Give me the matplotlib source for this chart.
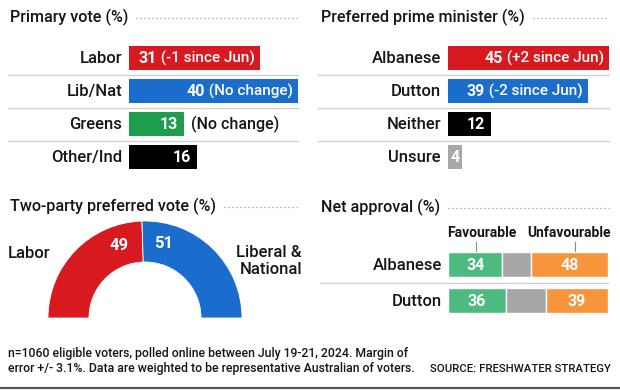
import matplotlib
matplotlib.use("Agg")
import matplotlib.pyplot as plt
import numpy as np

plt.rcParams['font.family'] = ['Roboto', 'DejaVu Sans']

# ---- data ----
primary_parties = ['Labor', 'Lib/Nat', 'Greens', 'Other/Ind']
primary_values = [31, 40, 13, 16]
primary_notes = [' (-1 since Jun)', ' (No change)', '(No change)', '']
primary_note_inside = [True, True, False, True]

ppm_names = ['Albanese', 'Dutton', 'Neither', 'Unsure']
ppm_values = [45, 39, 12, 4]
ppm_notes = [' (+2 since Jun)', ' (-2 since Jun)', '', '']
ppm_note_inside = [True, True, True, True]

tpp_labels = ['Labor', 'Liberal &\nNational']
tpp_values = [49, 51]

approval_names = ['Albanese', 'Dutton']
approval_fav = [34, 36]
approval_neither = [18, 25]
approval_unfav = [48, 39]

footnote = ("n=1060 eligible voters, polled online between July 19-21, 2024. Margin of\n"
            "error +/- 3.1%. Data are weighted to be representative Australian of voters.")
source = "SOURCE: FRESHWATER STRATEGY"

RED = '#d71920'
BLUE = '#1a6dcc'
GREEN = '#1e9e4d'
GREY = '#a8a8a8'
FAV = '#4dbb7f'
NEU = '#a6a6a6'
UNFAV = '#f7943c'
TXT = '#151515'
SEP = '#cfcfcf'
WT = 'medium'

W, H = 620, 390
fig = plt.figure(figsize=(6.2, 3.9), dpi=100)
fig.patch.set_facecolor('white')


def px_axes(x0, y0, x1, y1):
    return fig.add_axes([x0 / W, 1 - y1 / H, (x1 - x0) / W, (y1 - y0) / H])


overlay = px_axes(0, 0, W, H)
overlay.set_xlim(0, W)
overlay.set_ylim(H, 0)
overlay.axis('off')
renderer = fig.canvas.get_renderer()


def title(x, y, s, x_end):
    t = overlay.text(x, y, s, fontsize=11.6, color=TXT, ha='left', va='center',
                     fontweight=WT)
    bb = t.get_window_extent(renderer)
    start = bb.x1 + 8
    overlay.plot([start, x_end], [y + 1, y + 1], color='#999999', lw=0.9,
                 linestyle=(0, (1, 2.2)))


title(10, 17, 'Primary vote (%)', 297)
title(321, 17, 'Preferred prime minister (%)', 609)
title(10, 206, 'Two-party preferred vote (%)', 297)
title(321, 207, 'Net approval (%)', 609)


def bar_panel(ax, labels, values, colors, notes, inside, xmax, sep_from):
    n = len(values)
    ax.barh(range(n), values, height=0.73, color=colors)
    ax.set_xlim(0, xmax)
    ax.set_ylim(n - 0.5, -0.5)
    ax.axis('off')
    # separators between rows
    for i in range(n - 1):
        ax.axhline(i + 0.5, xmin=sep_from, xmax=1.0, color=SEP, lw=0.9,
                   clip_on=False)
    for i, (lab, v) in enumerate(zip(labels, values)):
        ax.annotate(lab, xy=(0, i), xytext=(-7, -5), textcoords='offset pixels',
                    ha='right', va='baseline', fontsize=12, color=TXT,
                    fontweight=WT)
        num = str(v)
        if notes[i] and inside[i]:
            t = ax.annotate(notes[i], xy=(v, i), xytext=(-5, -5),
                            textcoords='offset pixels', ha='right',
                            va='baseline', fontsize=11, color='white',
                            fontweight=WT)
            ax.annotate(num, xy=(0, 0), xycoords=t, ha='right', va='bottom',
                        fontsize=11.5, color='white', fontweight='bold')
        else:
            if v < 6:
                ax.annotate(num, xy=(v / 2, i), xytext=(0, -5),
                            textcoords='offset pixels', ha='center',
                            va='baseline', fontsize=11.5, color='white',
                            fontweight='bold')
            else:
                ax.annotate(num, xy=(v, i), xytext=(-6, -5),
                            textcoords='offset pixels', ha='right',
                            va='baseline', fontsize=11.5, color='white',
                            fontweight='bold')
            if notes[i]:
                ax.annotate(notes[i], xy=(v, i), xytext=(7, -5),
                            textcoords='offset pixels', ha='left',
                            va='baseline', fontsize=11.5, color=TXT,
                            fontweight=WT)


# Primary vote
ax1 = px_axes(129, 41.5, 298, 173.5)
bar_panel(ax1, primary_parties, primary_values, [RED, BLUE, GREEN, 'black'],
          primary_notes, primary_note_inside, 40, -(129 - 8) / (298 - 129))

# Preferred PM
ax2 = px_axes(448, 41.5, 609, 173.5)
bar_panel(ax2, ppm_names, ppm_values, [RED, BLUE, 'black', GREY],
          ppm_notes, ppm_note_inside, 45, -(448 - 318) / (609 - 448))

# Two-party preferred donut
ax3 = px_axes(45, 218, 245, 318)
ax3.pie([v / 200 for v in tpp_values], colors=[RED, BLUE], startangle=180,
        counterclock=False, radius=97, normalize=False,
        wedgeprops=dict(width=41, edgecolor='white', linewidth=0.6))
ax3.set_xlim(-100, 100)
ax3.set_ylim(0, 100)
ax3.axis('off')
boundary = 180 - tpp_values[0] * 1.8
for ang, v in [(boundary + 18, tpp_values[0]), (boundary - 16, tpp_values[1])]:
    r = 77
    ax3.text(r * np.cos(np.radians(ang)), r * np.sin(np.radians(ang)), str(v),
             ha='center', va='center', fontsize=12, fontweight='bold',
             color='white')
overlay.text(8, 253, tpp_labels[0], ha='left', va='center', fontsize=12,
             color=TXT, fontweight=WT)
overlay.text(302, 261, tpp_labels[1], ha='right', va='center', fontsize=12,
             color=TXT, linespacing=1.1, fontweight=WT)

# Net approval
ax4 = px_axes(448, 246.5, 608, 318.5)
rows = range(len(approval_names))
ax4.barh(rows, approval_fav, height=0.69, color=FAV, edgecolor='white', lw=1)
ax4.barh(rows, approval_neither, left=approval_fav, height=0.69, color=NEU,
         edgecolor='white', lw=1)
left_unfav = [a + b for a, b in zip(approval_fav, approval_neither)]
ax4.barh(rows, approval_unfav, left=left_unfav, height=0.69, color=UNFAV,
         edgecolor='white', lw=1)
ax4.set_xlim(0, 100)
ax4.set_ylim(len(approval_names) - 0.5, -0.5)
ax4.axis('off')
ax4.axhline(0.5, xmin=-(448 - 320) / 160, xmax=1.0, color=SEP, lw=0.9,
            clip_on=False)
for i, name in enumerate(approval_names):
    ax4.annotate(name, xy=(0, i), xytext=(-6, -5), textcoords='offset pixels',
                 ha='right', va='baseline', fontsize=12, color=TXT,
                 fontweight=WT)
    ax4.annotate(str(approval_fav[i]), xy=(approval_fav[i] / 2, i),
                 xytext=(0, -5), textcoords='offset pixels', ha='center',
                 va='baseline', fontsize=11.5, color='white', fontweight='bold')
    ax4.annotate(str(approval_unfav[i]),
                 xy=(left_unfav[i] + approval_unfav[i] / 2, i),
                 xytext=(0, -5), textcoords='offset pixels', ha='center',
                 va='baseline', fontsize=11.5, color='white', fontweight='bold')
# column headers
overlay.text(482, 233, 'Favourable', ha='center', va='center', fontsize=10,
             fontweight='bold', color=TXT)
overlay.text(569, 233, 'Unfavourable', ha='center', va='center', fontsize=10,
             fontweight='bold', color=TXT)
overlay.plot([476, 476], [242, 252], color='#888888', lw=0.8)
overlay.plot([575, 575], [242, 252], color='#888888', lw=0.8)

# footnote
overlay.text(8, 361, footnote, ha='left', va='center', fontsize=8.8,
             color=TXT, linespacing=1.2, fontweight=WT)
overlay.text(611, 369, source, ha='right', va='center', fontsize=8.2,
             color=TXT, fontweight=WT)
overlay.plot([0, W], [387.5, 387.5], color='#555555', lw=1.6)

fig.savefig('out.png', dpi=100)
